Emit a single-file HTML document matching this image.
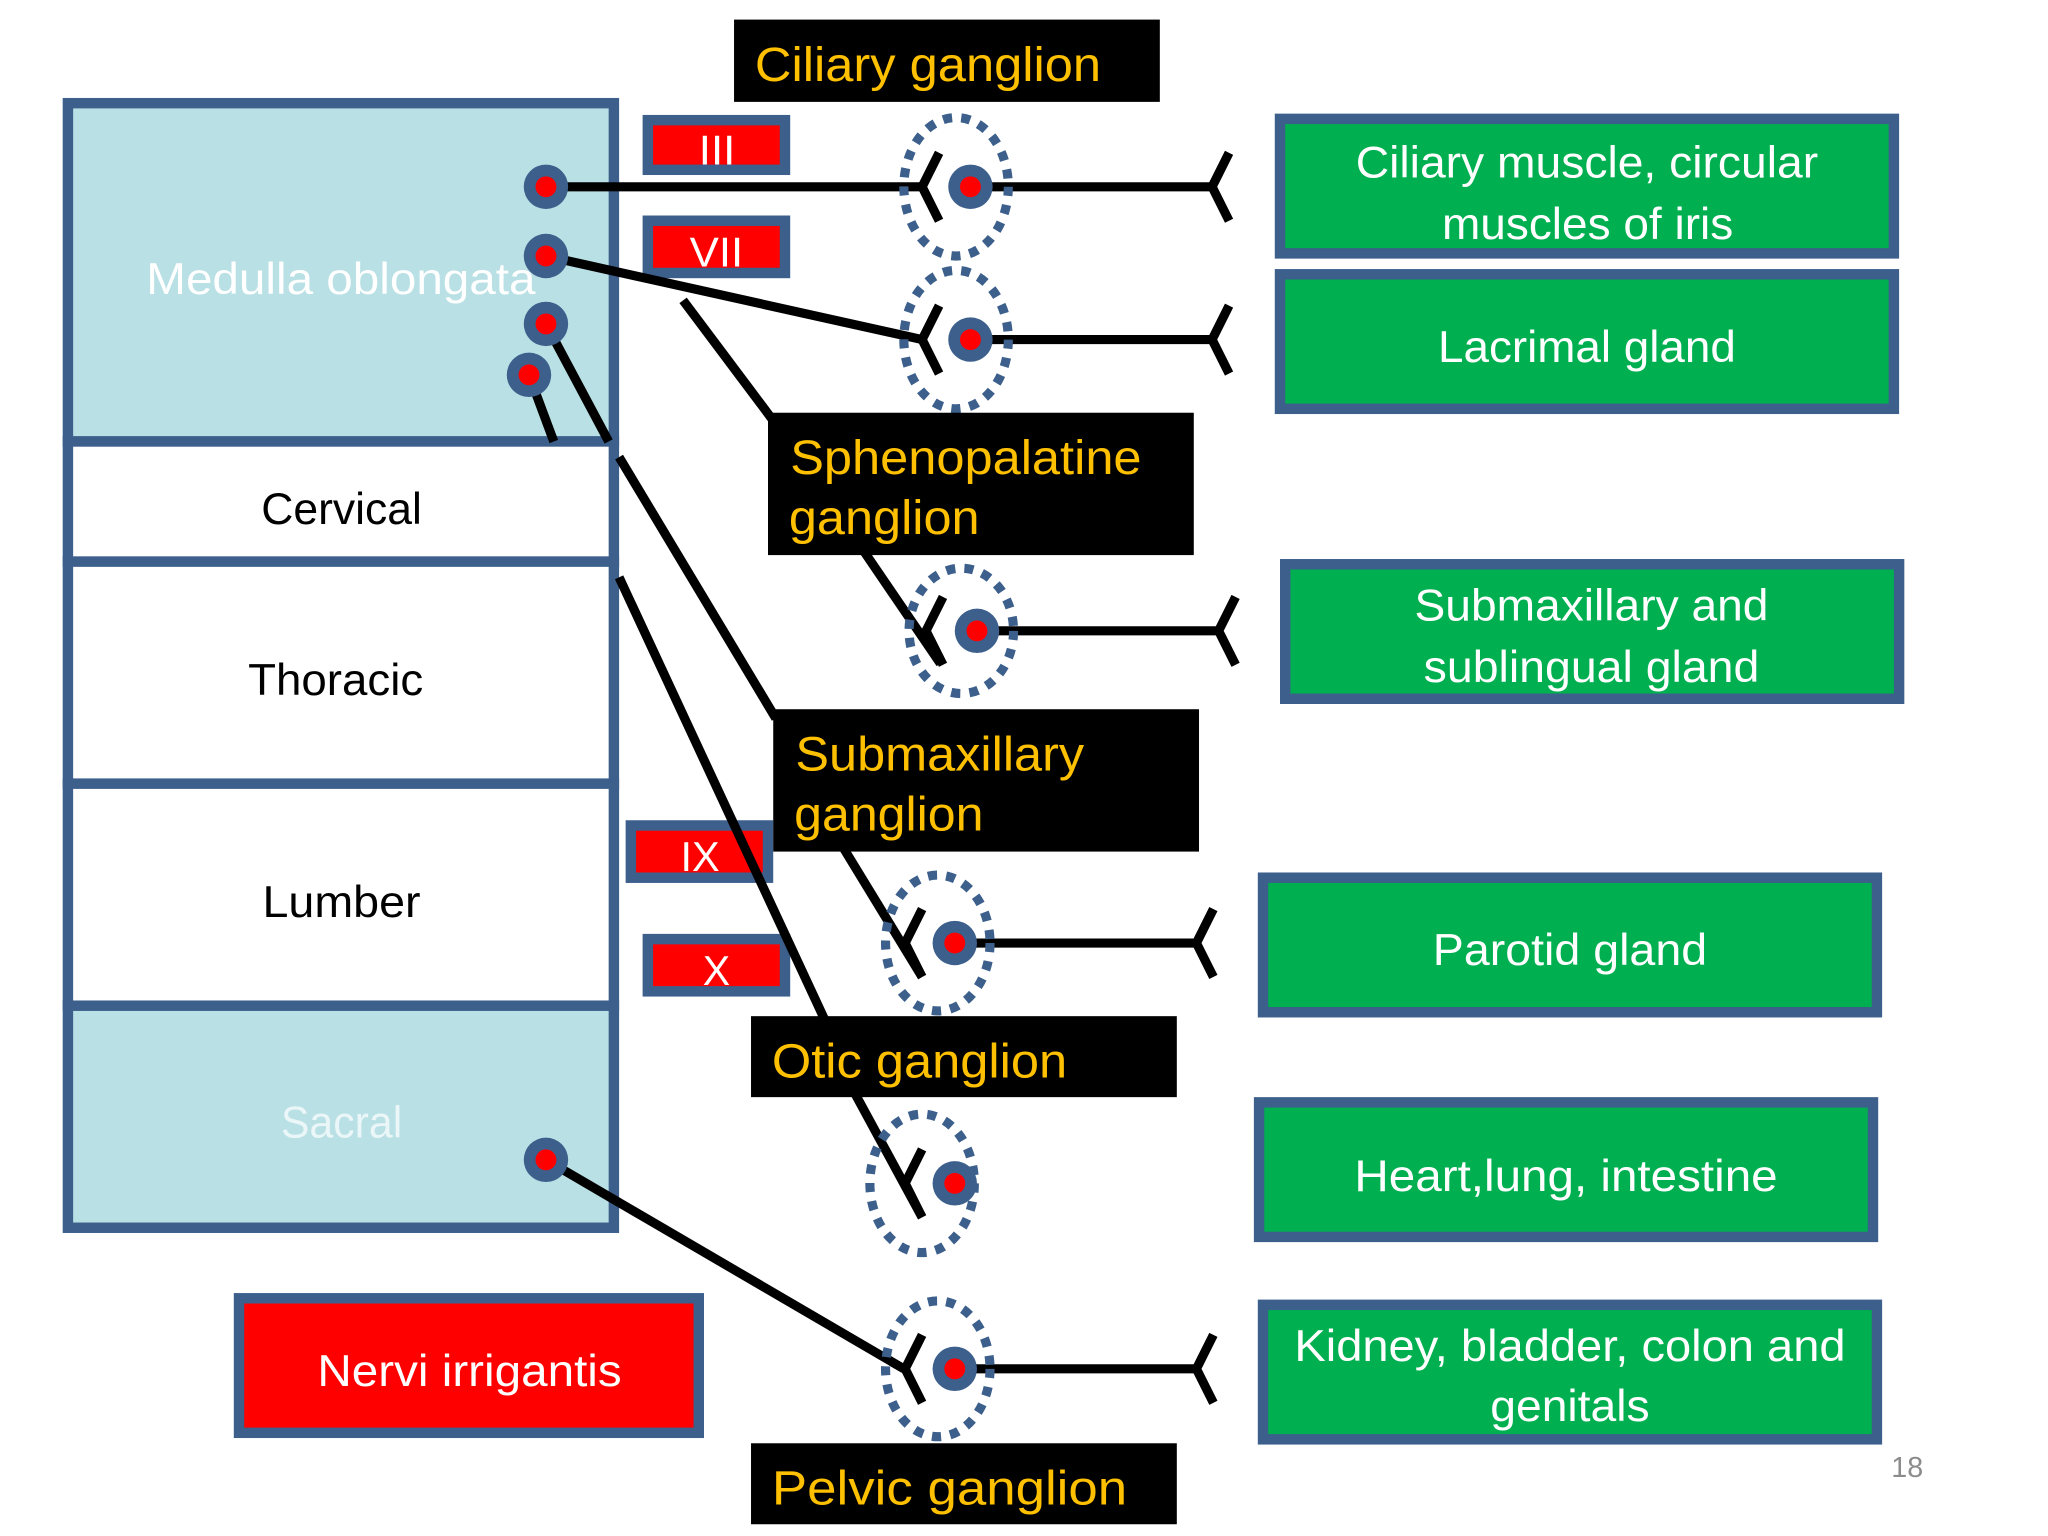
<!DOCTYPE html>
<html><head><meta charset="utf-8"><style>
html,body{margin:0;padding:0;background:#fff;}
svg{display:block;}
text{font-family:"Liberation Sans",sans-serif;}
</style></head><body>
<svg width="2048" height="1536" viewBox="0 0 1568 1176" xmlns="http://www.w3.org/2000/svg">
<rect width="1568" height="1176" fill="#fff"/>
<!-- left column -->
<g stroke="#3C5F8C" stroke-width="8">
<rect x="52" y="79" width="418" height="259" fill="#B9E0E4"/>
<rect x="52" y="338" width="418" height="92" fill="#fff"/>
<rect x="52" y="430" width="418" height="170" fill="#fff"/>
<rect x="52" y="600" width="418" height="170" fill="#fff"/>
<rect x="52" y="770" width="418" height="170" fill="#B9E0E4"/>
</g>
<g font-size="34" text-anchor="start" lengthAdjust="spacingAndGlyphs">
<text x="112" y="225" fill="#fff" textLength="298" lengthAdjust="spacingAndGlyphs">Medulla oblongata</text>
<text x="200" y="401" fill="#000" textLength="123" lengthAdjust="spacingAndGlyphs">Cervical</text>
<text x="190" y="532" fill="#000" textLength="134" lengthAdjust="spacingAndGlyphs">Thoracic</text>
<text x="201" y="702" fill="#000" textLength="121" lengthAdjust="spacingAndGlyphs">Lumber</text>
<text x="215" y="871" fill="#EAF6F7" textLength="93" lengthAdjust="spacingAndGlyphs">Sacral</text>
</g>
<!-- nerve labels -->
<g stroke="#3C5F8C" stroke-width="8" fill="#FF0000">
<rect x="496" y="92" width="105" height="38"/>
<rect x="496" y="169" width="105" height="40"/>
<rect x="483" y="632" width="105" height="40"/>
<rect x="496" y="719" width="105" height="40"/>
<rect x="183" y="994" width="352" height="103"/>
</g>
<g fill="#fff" font-size="32">
<text x="535" y="126" textLength="28" lengthAdjust="spacingAndGlyphs">III</text>
<text x="528" y="204" textLength="41" lengthAdjust="spacingAndGlyphs">VII</text>
<text x="521" y="667" textLength="30" lengthAdjust="spacingAndGlyphs">IX</text>
<text x="538" y="754" textLength="21" lengthAdjust="spacingAndGlyphs">X</text>
<text x="243" y="1061" font-size="34" textLength="233" lengthAdjust="spacingAndGlyphs">Nervi irrigantis</text>
</g>
<!-- green boxes -->
<g stroke="#3C5F8C" stroke-width="8" fill="#00B050">
<rect x="980" y="91" width="470" height="103"/>
<rect x="980" y="210" width="470" height="103"/>
<rect x="984" y="432" width="470" height="103"/>
<rect x="967" y="672" width="470" height="103"/>
<rect x="964" y="844" width="470" height="103"/>
<rect x="967" y="999" width="470" height="103"/>
</g>
<g fill="#fff" font-size="34">
<text x="1038" y="136" textLength="354" lengthAdjust="spacingAndGlyphs">Ciliary muscle, circular</text>
<text x="1104" y="183" textLength="223" lengthAdjust="spacingAndGlyphs">muscles of iris</text>
<text x="1101" y="277" textLength="228" lengthAdjust="spacingAndGlyphs">Lacrimal gland</text>
<text x="1083" y="475" textLength="271" lengthAdjust="spacingAndGlyphs">Submaxillary and</text>
<text x="1090" y="522" textLength="257" lengthAdjust="spacingAndGlyphs">sublingual gland</text>
<text x="1097" y="739" textLength="210" lengthAdjust="spacingAndGlyphs">Parotid gland</text>
<text x="1037" y="912" textLength="324" lengthAdjust="spacingAndGlyphs">Heart,lung, intestine</text>
<text x="991" y="1042" textLength="422" lengthAdjust="spacingAndGlyphs">Kidney, bladder, colon and</text>
<text x="1141" y="1088" textLength="122" lengthAdjust="spacingAndGlyphs">genitals</text>
</g>
<!-- connector lines -->
<g stroke="#000" stroke-width="7" fill="none">
<line x1="418" y1="143" x2="706" y2="143"/>
<line x1="418" y1="196" x2="706" y2="260"/>
<line x1="523" y1="230" x2="592" y2="322"/>
<line x1="405" y1="287" x2="424" y2="338"/>
<line x1="418" y1="248" x2="466" y2="338"/>
<line x1="474" y1="350" x2="594" y2="550"/>
<line x1="474" y1="442" x2="632" y2="782"/>
<line x1="660" y1="420" x2="720" y2="508"/>
<line x1="645" y1="648" x2="706" y2="748"/>
<line x1="655" y1="838" x2="706" y2="932"/>
<line x1="418" y1="888" x2="692" y2="1048"/>
<!-- outgoing -->
<line x1="743" y1="143" x2="928" y2="143"/>
<line x1="743" y1="260" x2="928" y2="260"/>
<line x1="748" y1="483" x2="933" y2="483"/>
<line x1="731" y1="722" x2="916" y2="722"/>
<line x1="731" y1="1048" x2="916" y2="1048"/>
<!-- synapse marks -->
<polyline points="719,117 706,143 719,169"/>
<polyline points="719,234 706,260 719,286"/>
<polyline points="722,457 709,483 722,509"/>
<polyline points="706,696 693,722 706,748"/>
<polyline points="706,880 693,906 706,932"/>
<polyline points="706,1022 693,1048 706,1074"/>
<polyline points="941,117 928,143 941,169"/>
<polyline points="941,234 928,260 941,286"/>
<polyline points="946,457 933,483 946,509"/>
<polyline points="929,696 916,722 929,748"/>
<polyline points="929,1022 916,1048 929,1074"/>
</g>
<!-- dashed ganglion circles -->
<g stroke="#3C5F8C" stroke-width="7" stroke-dasharray="7 7" fill="none">
<ellipse cx="732" cy="143" rx="40" ry="53"/>
<ellipse cx="732" cy="260" rx="40" ry="53"/>
<ellipse cx="736" cy="483" rx="40" ry="48"/>
<ellipse cx="718" cy="722" rx="40" ry="52"/>
<ellipse cx="706" cy="906" rx="40" ry="53"/>
<ellipse cx="718" cy="1048" rx="40" ry="52"/>
</g>
<!-- nodes -->
<g fill="#3C5F8C">
<circle cx="418" cy="143" r="17"/><circle cx="418" cy="196" r="17"/><circle cx="418" cy="248" r="17"/><circle cx="405" cy="287" r="17"/><circle cx="418" cy="888" r="17"/>
<circle cx="743" cy="143" r="17"/><circle cx="743" cy="260" r="17"/><circle cx="748" cy="483" r="17"/><circle cx="731" cy="722" r="17"/><circle cx="731" cy="906" r="17"/><circle cx="731" cy="1048" r="17"/>
</g>
<g fill="#FF0000">
<circle cx="418" cy="143" r="8"/><circle cx="418" cy="196" r="8"/><circle cx="418" cy="248" r="8"/><circle cx="405" cy="287" r="8"/><circle cx="418" cy="888" r="8"/>
<circle cx="743" cy="143" r="8"/><circle cx="743" cy="260" r="8"/><circle cx="748" cy="483" r="8"/><circle cx="731" cy="722" r="8"/><circle cx="731" cy="906" r="8"/><circle cx="731" cy="1048" r="8"/>
</g>
<!-- black ganglion labels -->
<g fill="#000">
<rect x="562" y="15" width="326" height="63"/>
<rect x="588" y="316" width="326" height="109"/>
<rect x="592" y="543" width="326" height="109"/>
<rect x="575" y="778" width="326" height="62"/>
<rect x="575" y="1105" width="326" height="62"/>
</g>
<g fill="#FFC000" font-size="37">
<text x="578" y="62" textLength="265" lengthAdjust="spacingAndGlyphs">Ciliary ganglion</text>
<text x="605" y="363" textLength="269" lengthAdjust="spacingAndGlyphs">Sphenopalatine</text>
<text x="604" y="409" textLength="146" lengthAdjust="spacingAndGlyphs">ganglion</text>
<text x="609" y="590" textLength="221" lengthAdjust="spacingAndGlyphs">Submaxillary</text>
<text x="608" y="636" textLength="145" lengthAdjust="spacingAndGlyphs">ganglion</text>
<text x="591" y="825" textLength="226" lengthAdjust="spacingAndGlyphs">Otic ganglion</text>
<text x="591" y="1152" textLength="272" lengthAdjust="spacingAndGlyphs">Pelvic  ganglion</text>
</g>
<text x="1448" y="1131" font-size="22" fill="#8C8C8C">18</text>
</svg>
</body></html>
